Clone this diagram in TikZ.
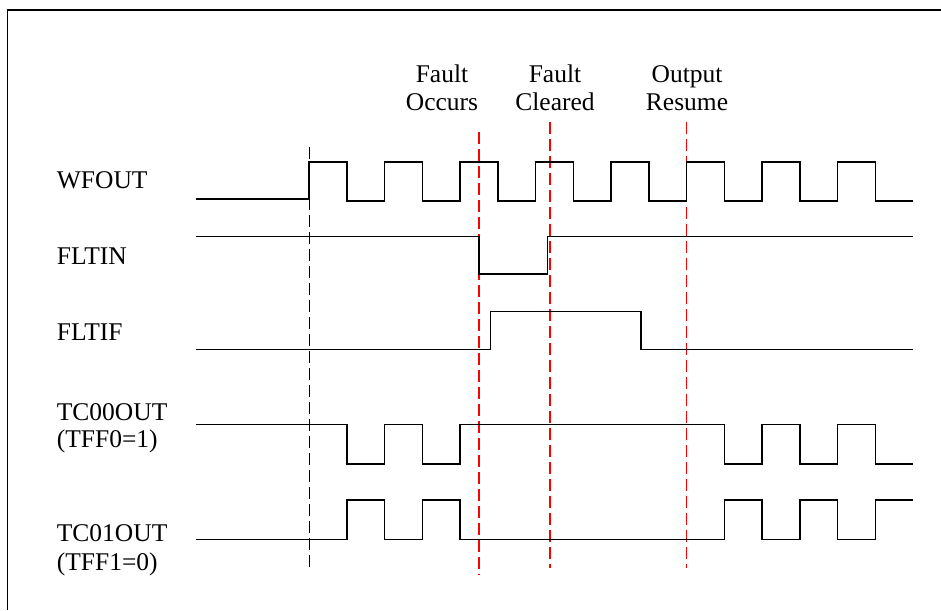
\documentclass[tikz,border=0pt]{standalone}
\usepackage{fontspec}
\setmainfont{Liberation Serif}
\begin{document}
\begin{tikzpicture}[x=1pt,y=-1pt,
  wave/.style={line width=1.5pt,black,line join=miter},
  blackdash/.style={line width=1.5pt,black,dash pattern=on 12pt off 5pt},
  reddash/.style={line width=1.6pt,red,dash pattern=on 12pt off 5pt},
  frameline/.style={line width=1.6pt,black},
  lbl/.style={font=\rmfamily\fontsize{25.5}{30}\selectfont,inner sep=0pt,anchor=base west},
  toplbl/.style={font=\rmfamily\fontsize{25.5}{30}\selectfont,inner sep=0pt,anchor=base}]
\useasboundingbox (0,0) rectangle (941,610);
% frame (cropped)
\draw[frameline] (7.3,610) -- (7.3,10.3) -- (941,10.3);
% marker lines
\draw[blackdash] (309.3,147) -- (309.3,568);
\draw[reddash] (479,132) -- (479,575);
\draw[reddash] (550,122) -- (550,568);
\draw[reddash] (686.5,122) -- (686.5,568);
% top labels
\node[toplbl] (f1a) at (442,82.7) {Fault};
\node[toplbl] (f1b) at (442,110.7) {Occurs};
\node[toplbl] (f2a) at (555,82.7) {Fault};
\node[toplbl] (f2b) at (555,110.7) {Cleared};
\node[toplbl] (f3a) at (687,82.7) {Output};
\node[toplbl] (f3b) at (687,110.7) {Resume};
% signal labels
\node[lbl] (lwf) at (56.7,188.3) {WFOUT};
\node[lbl] (lfi) at (56.7,264) {FLTIN};
\node[lbl] (lff) at (56.7,340) {FLTIF};
\node[lbl] (lt0) at (56.7,420) {TC00OUT};
\node[lbl] (lt0b) at (56.7,447.3) {(TFF0=1)};
\node[lbl] (lt1) at (56.7,541.7) {TC01OUT};
\node[lbl] (lt1b) at (56.7,570) {(TFF1=0)};
% WFOUT
\draw[wave] (195.7,199) -- (309,199) -- (309,162) -- (346.75,162) -- (346.75,201) -- (384.5,201) -- (384.5,162) -- (422.25,162) -- (422.25,201) -- (460,201) -- (460,162) -- (497.75,162) -- (497.75,201) -- (535.5,201) -- (535.5,162) -- (573.25,162) -- (573.25,201) -- (611,201) -- (611,162) -- (648.75,162) -- (648.75,201) -- (686.5,201) -- (686.5,162) -- (724.25,162) -- (724.25,201) -- (762,201) -- (762,162) -- (799.75,162) -- (799.75,201) -- (837.5,201) -- (837.5,162) -- (875.25,162) -- (875.25,201) -- (913.3,201);
% FLTIN
\draw[wave] (195.7,236.3) -- (479,236.3) -- (479,274) -- (547.7,274) -- (547.7,236.3) -- (913.3,236.3);
% FLTIF
\draw[wave] (195.7,349.3) -- (490.7,349.3) -- (490.7,311.7) -- (641,311.7) -- (641,349.3) -- (913.3,349.3);
% TC00OUT
\draw[wave] (195.7,424.7) -- (346.75,424.7) -- (346.75,464) -- (384.5,464) -- (384.5,424.7) -- (422.25,424.7) -- (422.25,464) -- (460,464) -- (460,424.7) -- (724.25,424.7) -- (724.25,464) -- (762,464) -- (762,424.7) -- (799.75,424.7) -- (799.75,464) -- (837.5,464) -- (837.5,424.7) -- (875.25,424.7) -- (875.25,464) -- (913.3,464);
% TC01OUT
\draw[wave] (195.7,539.3) -- (346.75,539.3) -- (346.75,500) -- (384.5,500) -- (384.5,539.3) -- (422.25,539.3) -- (422.25,500) -- (460,500) -- (460,539.3) -- (724.25,539.3) -- (724.25,500) -- (762,500) -- (762,539.3) -- (799.75,539.3) -- (799.75,500) -- (837.5,500) -- (837.5,539.3) -- (875.25,539.3) -- (875.25,500) -- (913.3,500);
\end{tikzpicture}
\end{document}
